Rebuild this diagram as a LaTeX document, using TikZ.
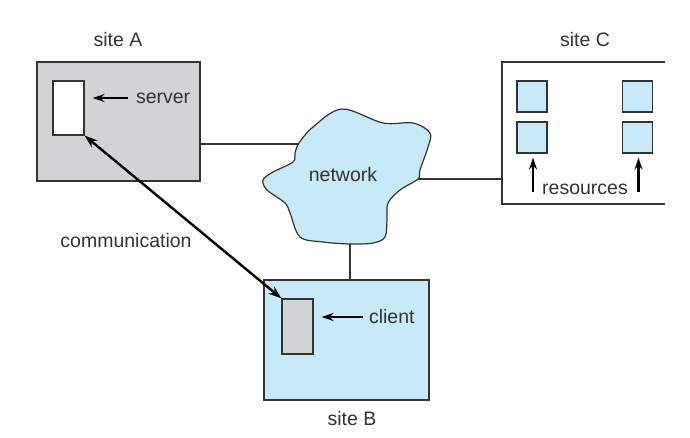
\documentclass[tikz,border=0pt]{standalone}
\usepackage{fontspec}
\setmainfont{Liberation Sans}
\usetikzlibrary{arrows.meta}
\definecolor{sitegray}{HTML}{D1D3D4}
\definecolor{netblue}{HTML}{C8E9F8}
\definecolor{linegray}{HTML}{333333}

\begin{document}
\begin{tikzpicture}[x=1pt,y=-1pt,font=\fontsize{19.5}{22}\selectfont,text=linegray,
  sitebox/.style={draw=linegray,line width=1.4pt,inner sep=0pt},
  proc/.style={draw=linegray,line width=1.2pt,inner sep=0pt,minimum width=31pt,minimum height=54pt},
  resbox/.style={draw=linegray,line width=1.2pt,fill=netblue,inner sep=0pt,minimum width=30pt,minimum height=31pt},
  wire/.style={draw=linegray,line width=1.2pt},
  tip/.style={-{Stealth[length=12pt,width=8pt]},line width=2.2pt,draw=black}]
\useasboundingbox (0,0) rectangle (690,438);
% cloud
\filldraw[fill=netblue,draw=linegray,line width=1.2pt] plot[smooth cycle,tension=0.55] coordinates {
  (342,109) (383,123) (413,123) (430,133) (428,147) (420,170) (418,179) (400,190)
  (388,203) (387,220) (385,237) (373,243) (350,244) (323,242) (300,237) (290,213)
  (285,203) (267,190) (263,180) (273,172) (293,162) (295,153) (299,143) (313,127)};
\node (network) at (343,175) {network};
\coordinate (netW) at (299,144);
\coordinate (netE) at (418,179);
\coordinate (netS) at (350,244);
% site A
\node[sitebox,fill=sitegray,minimum width=163pt,minimum height=119pt] (siteA) at (118.5,121.5) {};
\node[proc,fill=white] (server) at (68.5,108) {};
\node[anchor=west] (serverlbl) at (132.5,98) {server};
\node (labelA) at (118,40) {site A};
\draw[wire] (siteA.east |- netW) -- (netW);
% site B
\node[sitebox,fill=netblue,minimum width=165pt,minimum height=120pt] (siteB) at (346.5,340) {};
\node[proc,fill=sitegray,minimum height=55pt] (client) at (297.5,326.5) {};
\node[anchor=west] (clientlbl) at (365.5,317) {client};
\node (labelB) at (352,419) {site B};
\draw[wire] (netS) -- (netS |- siteB.north);
% site C
\coordinate (siteCnw) at (502,62);
\coordinate (siteCsw) at (502,204);
\draw[sitebox] (665,62) -- (siteCnw) -- (siteCsw) -- (665,204);
\node (labelC) at (585,40) {site C};
\node[resbox] (res1) at (532,96.5) {};
\node[resbox] (res2) at (637.5,96.5) {};
\node[resbox] (res3) at (532,137.5) {};
\node[resbox] (res4) at (637.5,137.5) {};
\node (resources) at (585,189) {resources};
\draw[wire] (netE) -- (netE -| siteCnw);
% arrows
\draw[tip,shorten <=5pt,shorten >=8pt] (serverlbl.west) -- (serverlbl.west -| server.east);
\draw[tip,shorten <=3pt,shorten >=8pt] (clientlbl.west) -- (clientlbl.west -| client.east);
\draw[tip,shorten >=4pt] ([xshift=1pt]res3.south |- resources.mid) -- ([xshift=1pt]res3.south);
\draw[tip,shorten >=4pt] ([xshift=1pt]res4.south |- resources.mid) -- ([xshift=1pt]res4.south);
\draw[tip,{Stealth[length=13pt,width=9pt]}-{Stealth[length=13pt,width=9pt]},line width=2.4pt] (server.south east) -- (client.north west);
\node (comm) at (126,241) {communication};
\end{tikzpicture}
\end{document}
